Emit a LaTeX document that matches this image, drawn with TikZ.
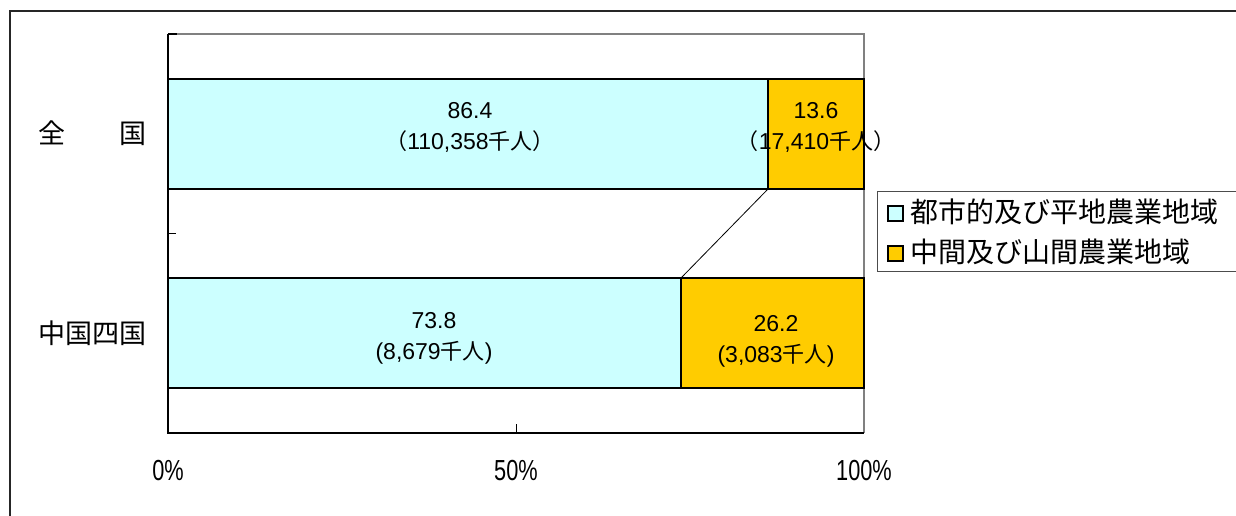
\documentclass[tikz,border=0pt]{standalone}
\usepackage{fontspec}
\setmainfont{Liberation Sans}
\newfontfamily\cjk{Noto Sans CJK JP}
\newfontfamily\axisfont[FakeStretch=0.75]{Liberation Sans}
\newcommand\jp[1]{{\cjk\fontsize{22}{30}\selectfont #1}}
\definecolor{cyanbar}{HTML}{CCFFFF}
\definecolor{goldbar}{HTML}{FFCC00}
\begin{document}
\begin{tikzpicture}[x=1pt,y=-1pt,
  seg/.style={draw=black, line width=2.5pt, anchor=north west, inner sep=0pt, outer sep=0pt, minimum height=110pt},
  val/.style={align=center, inner sep=0pt, font=\fontsize{23}{31}\selectfont},
  cat/.style={anchor=east, inner sep=0pt, font=\cjk\fontsize{27}{27}\selectfont},
  axlab/.style={inner sep=0pt, font=\axisfont\fontsize{29}{29}\selectfont},
  legsq/.style={draw=black, line width=2pt, minimum size=15pt, inner sep=0pt},
  legtxt/.style={anchor=west, inner sep=0pt, font=\cjk\fontsize{28}{28}\selectfont}]
\useasboundingbox (0,0) rectangle (1236,515);
% outer frame
\draw[line width=1.5pt, black!85] (10,516) -- (10,11) -- (1237,11);
% plot area
\draw[black!50, line width=2pt] (168,34) -- (864,34) -- (864,433);
% bars
\node[seg, fill=cyanbar, minimum width=600pt] (a1) at (168,79) {};
\node[seg, fill=goldbar, minimum width=96pt] (a2) at (a1.north east) {};
\node[seg, fill=cyanbar, minimum width=513pt] (b1) at (168,278) {};
\node[seg, fill=goldbar, minimum width=183pt] (b2) at (b1.north east) {};
% axes
\draw[line width=2pt] (168,34) -- (168,433) -- (864,433);
\draw[line width=1.5pt] (168,34) -- (177,34);
\draw[line width=1pt] (168,233) -- (176,233);
\draw[line width=1pt] (516,433) -- (516,424);
% connector
\draw[line width=0.8pt] (a2.south west) -- (b2.north west);
% value labels
\node[val] (l1) at (470,127) {86.4\\\jp{（}110,358\jp{千人）}};
\node[val] (l2) at (816,127) {13.6\\\jp{（}17,410\jp{千人）}};
\node[val] (l3) at (434,338) {73.8\\(8,679\jp{千人})};
\node[val] (l4) at (776,341) {26.2\\(3,083\jp{千人})};
% category labels
\node[cat] (c1) at (147,133) {全　　国};
\node[cat] (c2) at (147,333) {中国四国};
% axis labels
\node[axlab] (x0) at (168,471) {0\%};
\node[axlab] (x50) at (516,471) {50\%};
\node[axlab] (x100) at (864,471) {100\%};
% legend
\node[draw=black!70, line width=1.2pt, anchor=north west, minimum width=375pt, minimum height=80pt, inner sep=0pt] (leg) at (877,191) {};
\node[legsq, fill=cyanbar] (s1) at (895.5,213.5) {};
\node[legtxt] (t1) at (910,212) {都市的及び平地農業地域};
\node[legsq, fill=goldbar] (s2) at (895.5,253.5) {};
\node[legtxt] (t2) at (910,252) {中間及び山間農業地域};
\end{tikzpicture}
\end{document}
